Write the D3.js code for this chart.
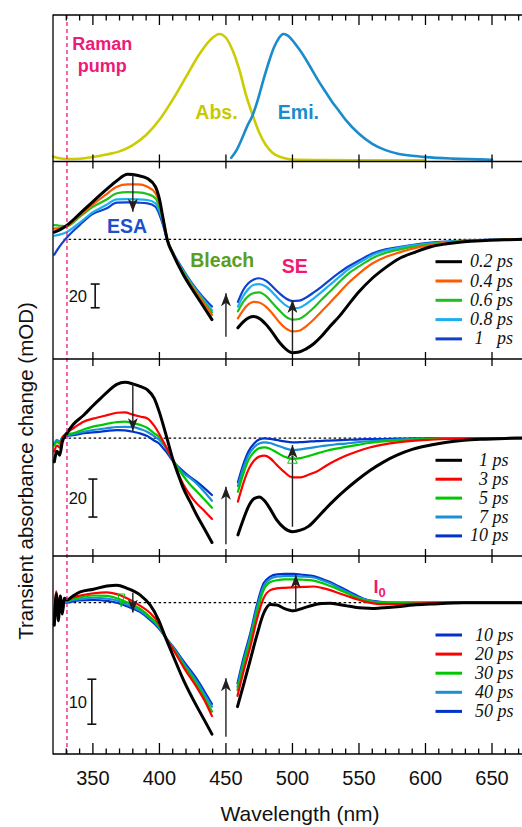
<!DOCTYPE html>
<html><head><meta charset="utf-8">
<script src="https://cdn.jsdelivr.net/npm/d3@7"></script>
<style>body{margin:0;background:#fff}svg{display:block}</style>
</head><body>
<svg id="c" width="522" height="827"></svg>
<script>
// ---------- DATA ----------
const xTicks = [350,400,450,500,550,600,650];
const ramanWl = 330.5;

// top panel (normalized)
const absWl  = [320,325,330,340,350,360,370,380,390,400,410,420,430,440,445,450,455,460,465,470,475,480,485,490,495,500,520,550,600];
const absVal = [0.03,0.015,0.01,0.012,0.025,0.045,0.07,0.12,0.2,0.32,0.48,0.66,0.84,0.97,1.0,0.97,0.87,0.72,0.52,0.36,0.22,0.12,0.06,0.03,0.014,0.006,0.002,0,0];
const emiWl  = [454,458,462,466,470,474,478,482,486,490,493,496,500,505,510,515,520,525,530,535,540,550,560,570,580,590,600,620,650];
const emiVal = [0.02,0.08,0.17,0.27,0.355,0.48,0.63,0.77,0.89,0.97,1.0,0.99,0.95,0.88,0.8,0.71,0.62,0.54,0.46,0.39,0.32,0.21,0.13,0.08,0.05,0.035,0.025,0.013,0.004];

// panel 2 (0.2 - 1 ps), mOD
const p2Labels = ["0.2 ps","0.4 ps","0.6 ps","0.8 ps","1   ps"];
const wlP2L = [321,325,330,340,350,360,368,376,384,391,397,400,403,406,410,418,425,432,439.5];
const p2L_02 = [6,8,11.5,21.5,32,42,49.6,55,54,51.5,44.5,34,16,-1,-12,-30,-43,-55,-68];
const p2L_04 = [9,9.5,11,20,29.5,38,44.6,46.5,46.5,44.5,39,31,16,0,-11,-29,-41,-52,-64];
const p2L_06 = [12,11.5,11,19,27.5,33.5,39,40,39.8,38.4,34.7,27,15,0,-11,-28,-40,-51,-62];
const p2L_08 = [3,4,6,14,23,29,33.9,34,33.9,33.3,30.5,24,13,-1,-11,-27,-39,-49.5,-60];
const p2L_1  = [-13,-6,1,12,21.5,26,31,31.2,31,30.5,27.6,21,11,-1.5,-11,-26,-38,-48,-57];
const wlP2R = [459,463,467,471,475,480,485,490,495,500,505,510,516,522,528,535,542,550,560,570,580,592,604,616,629,645,660,673];
const p2R_02 = [-75,-70,-66.5,-65.5,-67,-72,-79,-87,-93,-96,-95.5,-93,-88.5,-82,-74,-65.5,-55.5,-44.5,-33,-24,-16.5,-11,-6.3,-3.8,-2,-1,-0.4,0];
const p2R_04 = [-67,-60,-55,-53,-53.5,-57,-63,-70,-75.5,-78,-77.5,-74,-68,-61,-54,-45.5,-37,-29,-20.5,-15,-11.3,-7.5,-4.8,-3,-1.7,-0.8,-0.3,0];
const p2R_06 = [-61,-53,-48,-45.5,-45,-48,-54,-60,-65.5,-68,-67.5,-64,-58,-51,-44.5,-36.5,-29,-23,-16,-11.5,-8.7,-6,-4,-2.6,-1.5,-0.7,-0.3,0];
const p2R_08 = [-57,-48,-42,-38.5,-38,-40,-45,-51,-56,-58.5,-58,-55,-50,-44.5,-38.7,-32,-25.5,-20,-13.5,-9.5,-7.3,-5,-3.4,-2.2,-1.3,-0.6,-0.2,0];
const p2R_1  = [-53,-43,-37,-34,-33,-35,-40,-45.5,-50,-52.3,-52,-49.5,-45,-40,-34.5,-28.5,-23,-18,-12,-8.5,-6.5,-4.5,-2.9,-1.9,-1.1,-0.5,-0.2,0];

// panel 3 (1 - 10 ps)
const p3Labels = ["1 ps","3 ps","5 ps","7 ps","10 ps"];
const wlP3L = [321,323,325,327,330,335,343,350,356,362,368,374,380,386,391,396,400,403,406,410,414,418,423,428,434,439.5];
const p3L_1  = [-12.5,-7,-9,-2,2,7,12,17,21,25,28.2,29.3,28.5,27,25.3,21,13.5,6.5,-1,-11,-19,-26.5,-33.5,-40.5,-48,-55];
const p3L_3  = [-7,-4,-5,0,2.5,5,8.6,10.2,11.2,12.3,13.3,13.5,12.3,11.2,10.3,6.5,2,-2,-6,-11.5,-18.5,-24.5,-30,-34.4,-38.5,-42.6];
const p3L_5  = [-4,-2,-3,0,2,2.5,4.5,6,6.8,7.7,8.4,8.6,7.8,6.8,5.3,2.5,0.5,-2.5,-6,-11.5,-16,-20,-24.5,-28,-32.5,-36.7];
const p3L_7  = [-3,-1,-2,0.5,1.5,2,3.3,4.2,4.7,5.3,5.8,5.9,5.7,4.6,3.2,1,-1,-3.5,-6.5,-11.5,-15.5,-18.5,-21,-24,-28.5,-33];
const p3L_10 = [-3,-1.5,-2,0,1,1.5,2.5,3,3.3,3.9,4.2,4,3.3,2.3,1,-1.3,-3,-5.5,-8,-12,-15,-17.5,-20.5,-23,-26.5,-30];
const wlP3R = [459,463,467,471,475,479,483,488,494,500,506,512,518,525,532,540,548,558,568,579,590,604,616,629,645,660,673];
const p3R_1  = [-51,-43,-36,-32,-31,-33,-37,-43,-47.5,-49.3,-48.5,-46.5,-42.5,-37.2,-32.3,-27.2,-22.5,-17.2,-12.8,-8.9,-6,-3.7,-2.2,-1.2,-0.6,-0.2,0];
const p3R_3  = [-33.5,-24,-16.5,-12,-9.8,-9.3,-10.5,-14,-18,-20.7,-20.7,-19.3,-17.7,-14.7,-12,-9.3,-7.2,-5,-3.5,-2.3,-1.5,-0.9,-0.5,-0.3,-0.1,0,0];
const p3R_5  = [-28.3,-19,-11.5,-7.5,-5.3,-4.9,-5.6,-7.5,-9.8,-11,-10.6,-9.5,-8.2,-6.8,-5.7,-4.7,-3.7,-2.6,-1.8,-1.2,-0.8,-0.5,-0.3,-0.2,-0.1,0,0];
const p3R_7  = [-25.3,-16,-9,-5,-2.9,-2.3,-2.6,-3.8,-5.3,-6.3,-6,-5.3,-4.7,-4,-3.4,-2.9,-2.3,-1.7,-1.2,-0.8,-0.5,-0.3,-0.2,-0.1,0,0,0];
const p3R_10 = [-23.3,-14,-7,-3,-0.8,-0.2,-0.4,-1,-1.8,-2.3,-2.2,-1.9,-1.6,-1.4,-1.2,-1,-0.8,-0.6,-0.5,-0.3,-0.2,-0.1,0,0,0,0,0];

// panel 4 (10 - 50 ps)
const p4Labels = ["10 ps","20 ps","30 ps","40 ps","50 ps"];
const wlP4L = [321,322.5,324,325.5,327,328.5,330.5,335,340.5,350.5,360.5,368,375.6,385.6,393,399.3,404.4,410.6,418.1,428.2,434,439.5];
const p4L_10 = [-5,2,-4,1.5,-2.5,1,0.6,1.5,2.4,3,3.7,3.9,3.2,1.7,-0.5,-3.8,-7.6,-12,-17.2,-23.1,-26.2,-29.2];
const p4L_20 = [-3,2.5,-2,1.5,-1,1,0.6,1.2,1.6,2.1,2.3,1.9,1,-0.7,-2.3,-4.5,-7.6,-10.5,-14.3,-18.9,-21.8,-25.2];
const p4L_30 = [-4,1.5,-3,1,-1.5,0.5,0.4,0.9,1.2,1.6,1.5,1,0.1,-1.4,-3.2,-5,-7.6,-10.3,-13.8,-18.2,-21.2,-24.2];
const p4L_40 = [-3.5,1,-3.5,0.5,-2,0.2,0.2,0.6,0.8,1.1,0.9,0.5,-0.4,-1.8,-3.5,-5.3,-7.6,-10.1,-13.4,-17.6,-20.4,-23.1];
const p4L_50 = [-4,0.5,-3,0,-1.5,0,0,0.3,0.5,0.6,0.4,0,-0.8,-2.1,-3.8,-5.6,-7.6,-9.9,-13,-17,-19.8,-22.5];
const wlP4R = [458.7,463,468.3,473,478.3,483.3,488.3,494,500.8,508,515.9,522,528.4,535,541,547,553.5,560,566,578.6,591,603.6,628.7,650,673];
const p4R_10 = [-23.1,-18.5,-12.7,-7.5,-2.4,-0.4,-0.5,-1.3,-1.8,-1.2,-0.5,-0.2,-0.1,-0.4,-0.7,-1,-1.2,-1.3,-1.2,-0.9,-0.5,-0.3,0,0,0];
const p4R_20 = [-20.7,-15.5,-9.8,-4,1,2.8,3.2,3.3,3.4,3.5,3.6,3.3,2.8,2.1,1.5,0.9,0.3,-0.1,-0.3,-0.3,-0.2,-0.1,0,0,0];
const p4R_30 = [-19.4,-14,-8.3,-2.5,2.8,4.6,5,5.2,5.2,5.1,4.9,4.4,3.7,2.9,2.1,1.3,0.6,0.2,0,-0.1,-0.1,0,0,0,0];
const p4R_40 = [-18.7,-13.3,-7.5,-1.5,3.6,5.3,5.8,5.9,5.9,5.8,5.6,5,4.3,3.3,2.4,1.5,0.8,0.3,0.1,0,0,0,0,0,0];
const p4R_50 = [-17.9,-12.5,-6.8,-0.8,4.3,5.8,6.3,6.4,6.4,6.2,5.9,5.3,4.6,3.6,2.7,1.8,0.9,0.4,0.2,0,0,0,0,0,0];

// ---------- STYLE ----------
const c2 = ["#000000","#ff5a00","#1fbf1f","#1ab0f0","#1040d0"];
const c3 = ["#000000","#ff0000","#00c800","#1a8fd8","#0033cc"];
const c4legend = ["#0033cc","#ff0000","#00c800","#1a8fd8","#0033cc"];
const SANS = "'Liberation Sans', Arial, sans-serif";
const SERIF = "'Liberation Serif', 'Times New Roman', serif";
const PINK = "#ec1a78";

const svg = d3.select("#c");
const L = 53, R = 522.6;
const bounds = [15, 161.5, 359, 556, 754];

const x = d3.scaleLinear().domain([320, 673]).range([L, R]);
const y1 = d3.scaleLinear().domain([-0.01, 1.15]).range([161.5, 15]);
const y2 = d3.scaleLinear().domain([-101.4, 65.9]).range([359, 161.5]);
const y3 = d3.scaleLinear().domain([-62.1, 41.6]).range([556, 359]);
const y4 = d3.scaleLinear().domain([-33.62, 10.38]).range([754, 556]);

// arrow marker
const defs = svg.append("defs");
defs.append("marker").attr("id","ah").attr("viewBox","0 0 13 10")
  .attr("markerWidth",13).attr("markerHeight",10).attr("refX",13).attr("refY",5)
  .attr("orient","auto").attr("markerUnits","userSpaceOnUse")
  .append("path").attr("d","M0,0 L13,5 L0,10 L3.5,5 Z").attr("fill","#231f20");

// zero dotted lines
[[y2],[y3],[y4]].forEach(([ys]) => {
  svg.append("line").attr("x1", x(328)).attr("x2", R).attr("y1", ys(0)).attr("y2", ys(0))
    .attr("stroke","#000").attr("stroke-width",1.2).attr("stroke-dasharray","2.5,2.5");
});

const lineGen = ys => d3.line().x(d => x(d[0])).y(d => ys(d[1])).curve(d3.curveMonotoneX);
function series(ys, wl, vals, color, w) {
  svg.append("path").datum(wl.map((d,i) => [d, vals[i]]))
    .attr("d", lineGen(ys)).attr("fill","none").attr("stroke",color)
    .attr("stroke-width",w).attr("stroke-linejoin","round").attr("stroke-linecap","round");
}

// top panel
series(y1, absWl, absVal, "#cccc00", 2.6);
series(y1, emiWl, emiVal, "#1a8ccc", 2.6);

// panels
const p2L = [p2L_02,p2L_04,p2L_06,p2L_08,p2L_1], p2R = [p2R_02,p2R_04,p2R_06,p2R_08,p2R_1];
const p3L = [p3L_1,p3L_3,p3L_5,p3L_7,p3L_10], p3R = [p3R_1,p3R_3,p3R_5,p3R_7,p3R_10];
const p4L = [p4L_10,p4L_20,p4L_30,p4L_40,p4L_50], p4R = [p4R_10,p4R_20,p4R_30,p4R_40,p4R_50];
[[y2,wlP2L,wlP2R,p2L,p2R,c2],[y3,wlP3L,wlP3R,p3L,p3R,c3],[y4,wlP4L,wlP4R,p4L,p4R,c3]].forEach(([ys,wl,wr,sl,sr,cols]) => {
  for (let i = 4; i >= 0; i--) {
    const w = i === 0 ? 3 : 2.2;
    series(ys, wl, sl[i], cols[i], w);
    series(ys, wr, sr[i], cols[i], w);
  }
});

// Raman pump dashed line
svg.append("line").attr("x1", x(ramanWl)).attr("x2", x(ramanWl)).attr("y1", bounds[0]).attr("y2", bounds[4])
  .attr("stroke", PINK).attr("stroke-width",1.3).attr("stroke-dasharray","4,3");

// frame & ticks
const fr = svg.append("g").attr("stroke","#000").attr("stroke-width",1.3);
fr.append("line").attr("x1",L).attr("x2",L).attr("y1",bounds[0]-0.6).attr("y2",bounds[4]+0.6);
bounds.forEach(b => fr.append("line").attr("x1",L).attr("x2",R+2).attr("y1",b).attr("y2",b));
const minor = d3.range(330, 680, 10).filter(v => v % 50 !== 0);
xTicks.forEach(v => fr.append("line").attr("x1",x(v)).attr("x2",x(v)).attr("y1",bounds[0]).attr("y2",bounds[0]+10));
minor.forEach(v => fr.append("line").attr("x1",x(v)).attr("x2",x(v)).attr("y1",bounds[0]).attr("y2",bounds[0]+5.5));
[1,2,3].forEach(k => xTicks.forEach(v => fr.append("line").attr("x1",x(v)).attr("x2",x(v))
  .attr("y1",bounds[k]-7).attr("y2",bounds[k]+7)));
xTicks.forEach(v => fr.append("line").attr("x1",x(v)).attr("x2",x(v)).attr("y1",bounds[4]).attr("y2",bounds[4]-11));
minor.forEach(v => fr.append("line").attr("x1",x(v)).attr("x2",x(v)).attr("y1",bounds[4]).attr("y2",bounds[4]-5.5));

svg.append("g").selectAll("text").data(xTicks).join("text")
  .attr("x", d => x(d)).attr("y", 785).attr("text-anchor","middle")
  .attr("font-family",SANS).attr("font-size",20).attr("fill","#111").text(d => d);
svg.append("text").attr("x", 300).attr("y", 821).attr("text-anchor","middle")
  .attr("font-family",SANS).attr("font-size",21).attr("fill","#111").text("Wavelength (nm)");
svg.append("text").attr("transform","translate(33,471) rotate(-90)").attr("text-anchor","middle")
  .attr("font-family",SANS).attr("font-size",20.5).attr("fill","#111").text("Transient absorbance change (mOD)");

// arrows
function arrow(ys, wlv, from, to) {
  svg.append("line").attr("x1",x(wlv)).attr("x2",x(wlv)).attr("y1",ys(from)).attr("y2",ys(to))
    .attr("stroke","#231f20").attr("stroke-width",1.4).attr("marker-end","url(#ah)");
}
arrow(y2, 380, 55, 23.4); arrow(y2, 450, -82.5, -45.8); arrow(y2, 500, -96, -51.4);
arrow(y3, 380, 28.8, 3.7); arrow(y3, 450, -55.9, -25.6); arrow(y3, 500, -46.7, -3.7);
arrow(y4, 380, 2.2, -2.2); arrow(y4, 450, -29.8, -16.8); arrow(y4, 502.5, -1.6, 6.2);

// scale bars
function bar(ys, wlv, lo, hi, label, lx, ly) {
  const g = svg.append("g").attr("stroke","#111").attr("stroke-width",1.6);
  g.append("line").attr("x1",x(wlv)).attr("x2",x(wlv)).attr("y1",ys(lo)).attr("y2",ys(hi));
  [lo,hi].forEach(v => g.append("line").attr("x1",x(wlv)-4.5).attr("x2",x(wlv)+4.5).attr("y1",ys(v)).attr("y2",ys(v)));
  svg.append("text").attr("x",lx).attr("y",ly).attr("text-anchor","end").attr("font-family",SANS)
    .attr("font-size",16.5).attr("fill","#111").text(label);
}
bar(y2, 351.7, -58, -37.9, "20", 87, 302);
bar(y3, 350, -41.6, -21.6, "20", 87, 504);
bar(y4, 349.2, -27, -17, "10", 87, 708);

// hollow marker triangles
svg.append("path").attr("d", d3.symbol(d3.symbolTriangle, 40)()).attr("transform",`translate(${x(500)},${y3(-11.8)})`)
  .attr("fill","none").attr("stroke","#00c800").attr("stroke-width",1);
svg.append("path").attr("d","M-3.5,-6 L3.5,-6 L0,7 Z").attr("transform",`translate(${x(371.3)},${y4(0.6)})`)
  .attr("fill","none").attr("stroke","#00c800").attr("stroke-width",1);

// labels
function lab(t, xx, yy, col, anchor, fs) {
  return svg.append("text").attr("x",xx).attr("y",yy).attr("text-anchor",anchor||"start")
    .attr("font-family",SANS).attr("font-weight","bold").attr("font-size",fs||19.5).attr("fill",col).text(t);
}
lab("Raman", x(357), 50, PINK, "middle", 18);
lab("pump", x(357), 71.5, PINK, "middle", 18);
lab("Abs.", x(427), 118.5, "#c8c800");
lab("Emi.", x(489), 118.5, "#1a8ccc");
lab("ESA", x(360.5), y2(5.6), "#1c4fcc");
lab("Bleach", x(423.2), y2(-23.2), "#5a9e1e");
lab("SE", x(492), y2(-28.6), "#f01870");
const io = lab("I", x(561), y4(2.2), "#f01870", "start", 18);
io.append("tspan").attr("font-size",13).attr("dy",4).text("0");

// legends
function legend(labels, cols, y0, step, tx, anchor) {
  labels.forEach((t,i) => {
    const yy = y0 + i*step;
    svg.append("line").attr("x1",435.5).attr("x2",462).attr("y1",yy).attr("y2",yy)
      .attr("stroke",cols[i]).attr("stroke-width",3);
    svg.append("text").attr("x",tx).attr("y",yy+5.5).attr("text-anchor",anchor)
      .attr("font-family",SERIF).attr("font-style","italic").attr("font-size",18)
      .attr("fill","#111").attr("xml:space","preserve").style("white-space","pre").text(t);
  });
}
legend(p2Labels, c2, 261.7, 19.3, 513, "end");
legend(p3Labels, c3, 460.3, 18.9, 508.5, "end");
legend(p4Labels, c4legend, 635, 19.1, 475, "start");
</script>
</body></html>
